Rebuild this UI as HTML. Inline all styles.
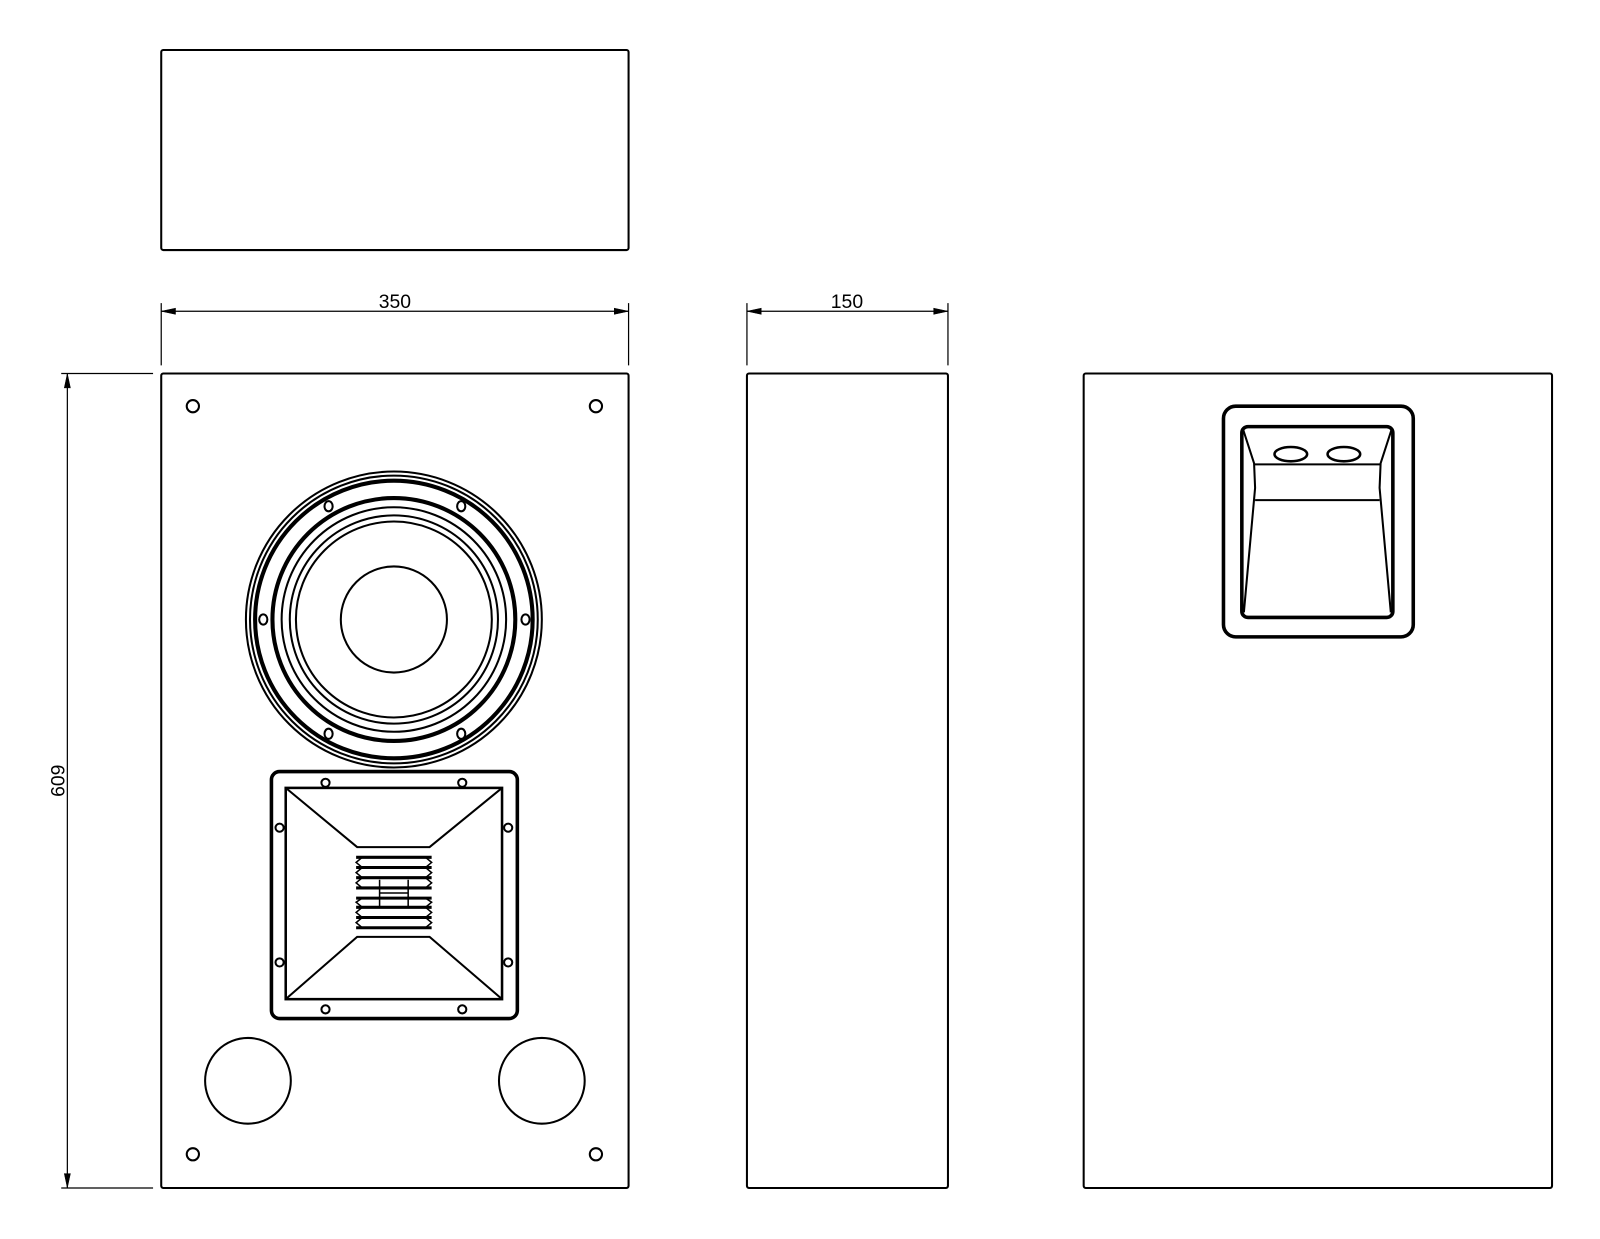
<!DOCTYPE html>
<html><head><meta charset="utf-8"><style>
html,body{margin:0;padding:0;background:#fff;}
svg{display:block;}
text{font-family:"Liberation Sans",sans-serif;font-size:19px;fill:#000;}
</style></head><body>
<svg width="1600" height="1239" viewBox="0 0 1568 1214" preserveAspectRatio="none" xmlns="http://www.w3.org/2000/svg">
<g fill="none" stroke="#000" stroke-width="2">
<rect x="158" y="49" width="458" height="196" rx="2"/>
<line x1="158" y1="297" x2="158" y2="358" stroke-width="1.2"/>
<line x1="616" y1="297" x2="616" y2="358" stroke-width="1.2"/>
<line x1="158" y1="305" x2="616" y2="305" stroke-width="1.2"/>
<path d="M158 305 L172 302 L172 308 Z M616 305 L602 302 L602 308 Z" fill="#000" stroke-width="0.5"/>
<line x1="732" y1="297" x2="732" y2="358" stroke-width="1.2"/>
<line x1="929" y1="297" x2="929" y2="358" stroke-width="1.2"/>
<line x1="732" y1="305" x2="929" y2="305" stroke-width="1.2"/>
<path d="M732 305 L746 302 L746 308 Z M929 305 L915 302 L915 308 Z" fill="#000" stroke-width="0.5"/>
<line x1="60" y1="366" x2="150" y2="366" stroke-width="1.2"/>
<line x1="60" y1="1164" x2="150" y2="1164" stroke-width="1.2"/>
<line x1="66" y1="366" x2="66" y2="1164" stroke-width="1.2"/>
<path d="M66 366 L63 380 L69 380 Z M66 1164 L63 1150 L69 1150 Z" fill="#000" stroke-width="0.5"/>
<rect x="158" y="366" width="458" height="798" rx="2"/>
<circle cx="189" cy="398" r="6"/><circle cx="584" cy="398" r="6"/>
<circle cx="189" cy="1131" r="6"/><circle cx="584" cy="1131" r="6"/>
<circle cx="243" cy="1059" r="42"/><circle cx="531" cy="1059" r="42"/>
<circle cx="386" cy="607" r="145"/>
<circle cx="386" cy="607" r="141"/>
<circle cx="386" cy="607" r="136" stroke-width="4"/>
<circle cx="386" cy="607" r="119" stroke-width="4"/>
<circle cx="386" cy="607" r="110"/>
<circle cx="386" cy="607" r="102"/>
<circle cx="386" cy="607" r="96"/>
<circle cx="386" cy="607" r="52"/>
<ellipse cx="322" cy="496" rx="4" ry="5"/><ellipse cx="452" cy="496" rx="4" ry="5"/>
<ellipse cx="258" cy="607" rx="4" ry="5"/><ellipse cx="515" cy="607" rx="4" ry="5"/>
<ellipse cx="322" cy="719" rx="4" ry="5"/><ellipse cx="452" cy="719" rx="4" ry="5"/>
<rect x="266" y="756" width="241" height="242" rx="8" stroke-width="3.5"/>
<rect x="280" y="772" width="212" height="207" stroke-width="2.5"/>
<circle cx="319" cy="767" r="4"/><circle cx="453" cy="767" r="4"/>
<circle cx="274" cy="811" r="4"/><circle cx="498" cy="811" r="4"/>
<circle cx="274" cy="943" r="4"/><circle cx="498" cy="943" r="4"/>
<circle cx="319" cy="989" r="4"/><circle cx="453" cy="989" r="4"/>
<path d="M280 772 L350 830 L421 830 L492 772"/>
<path d="M280 979 L350 918 L421 918 L492 979"/>
<g stroke-width="3">
<line x1="349" y1="840" x2="423" y2="840"/>
<line x1="349" y1="850" x2="423" y2="850"/>
<line x1="349" y1="860" x2="423" y2="860"/>
<line x1="349" y1="870" x2="423" y2="870"/>
<line x1="349" y1="880" x2="423" y2="880"/>
<line x1="349" y1="889" x2="423" y2="889"/>
<line x1="349" y1="899" x2="423" y2="899"/>
<line x1="349" y1="909" x2="423" y2="909"/>
</g>
<path d="M355 840 L349 845 L355 850 L349 855 L355 860 L349 865 L355 870 M355 880 L349 884 L355 889 L349 894 L355 899 L349 904 L355 909" stroke-width="1.5"/>
<path d="M417 840 L423 845 L417 850 L423 855 L417 860 L423 865 L417 870 M417 880 L423 884 L417 889 L423 894 L417 899 L423 904 L417 909" stroke-width="1.5"/>
<line x1="372" y1="862" x2="372" y2="888" stroke-width="1.5"/>
<line x1="400" y1="862" x2="400" y2="888" stroke-width="1.5"/>
<line x1="372" y1="875" x2="400" y2="875" stroke-width="1.5"/>
<rect x="732" y="366" width="197" height="798" rx="2"/>
<rect x="1062" y="366" width="459" height="798" rx="2"/>
<rect x="1199" y="398" width="186" height="226" rx="12" stroke-width="3.5"/>
<rect x="1217" y="418" width="148" height="187" rx="6" stroke-width="3.5"/>
<path d="M1218 420 L1229 454 L1230 478 L1219 600" stroke-width="2"/>
<path d="M1364 420 L1353 454 L1352 478 L1363 600" stroke-width="2"/>
<line x1="1229" y1="455" x2="1353" y2="455"/>
<line x1="1230" y1="490" x2="1352" y2="490"/>
<ellipse cx="1265" cy="445" rx="16" ry="7" stroke-width="2.5"/>
<ellipse cx="1317" cy="445" rx="16" ry="7" stroke-width="2.5"/>
</g>
<text x="387" y="302" text-anchor="middle">350</text>
<text x="830" y="302" text-anchor="middle">150</text>
<text x="0" y="0" text-anchor="middle" transform="translate(63,765) rotate(-90)">609</text>
</svg>
</body></html>
